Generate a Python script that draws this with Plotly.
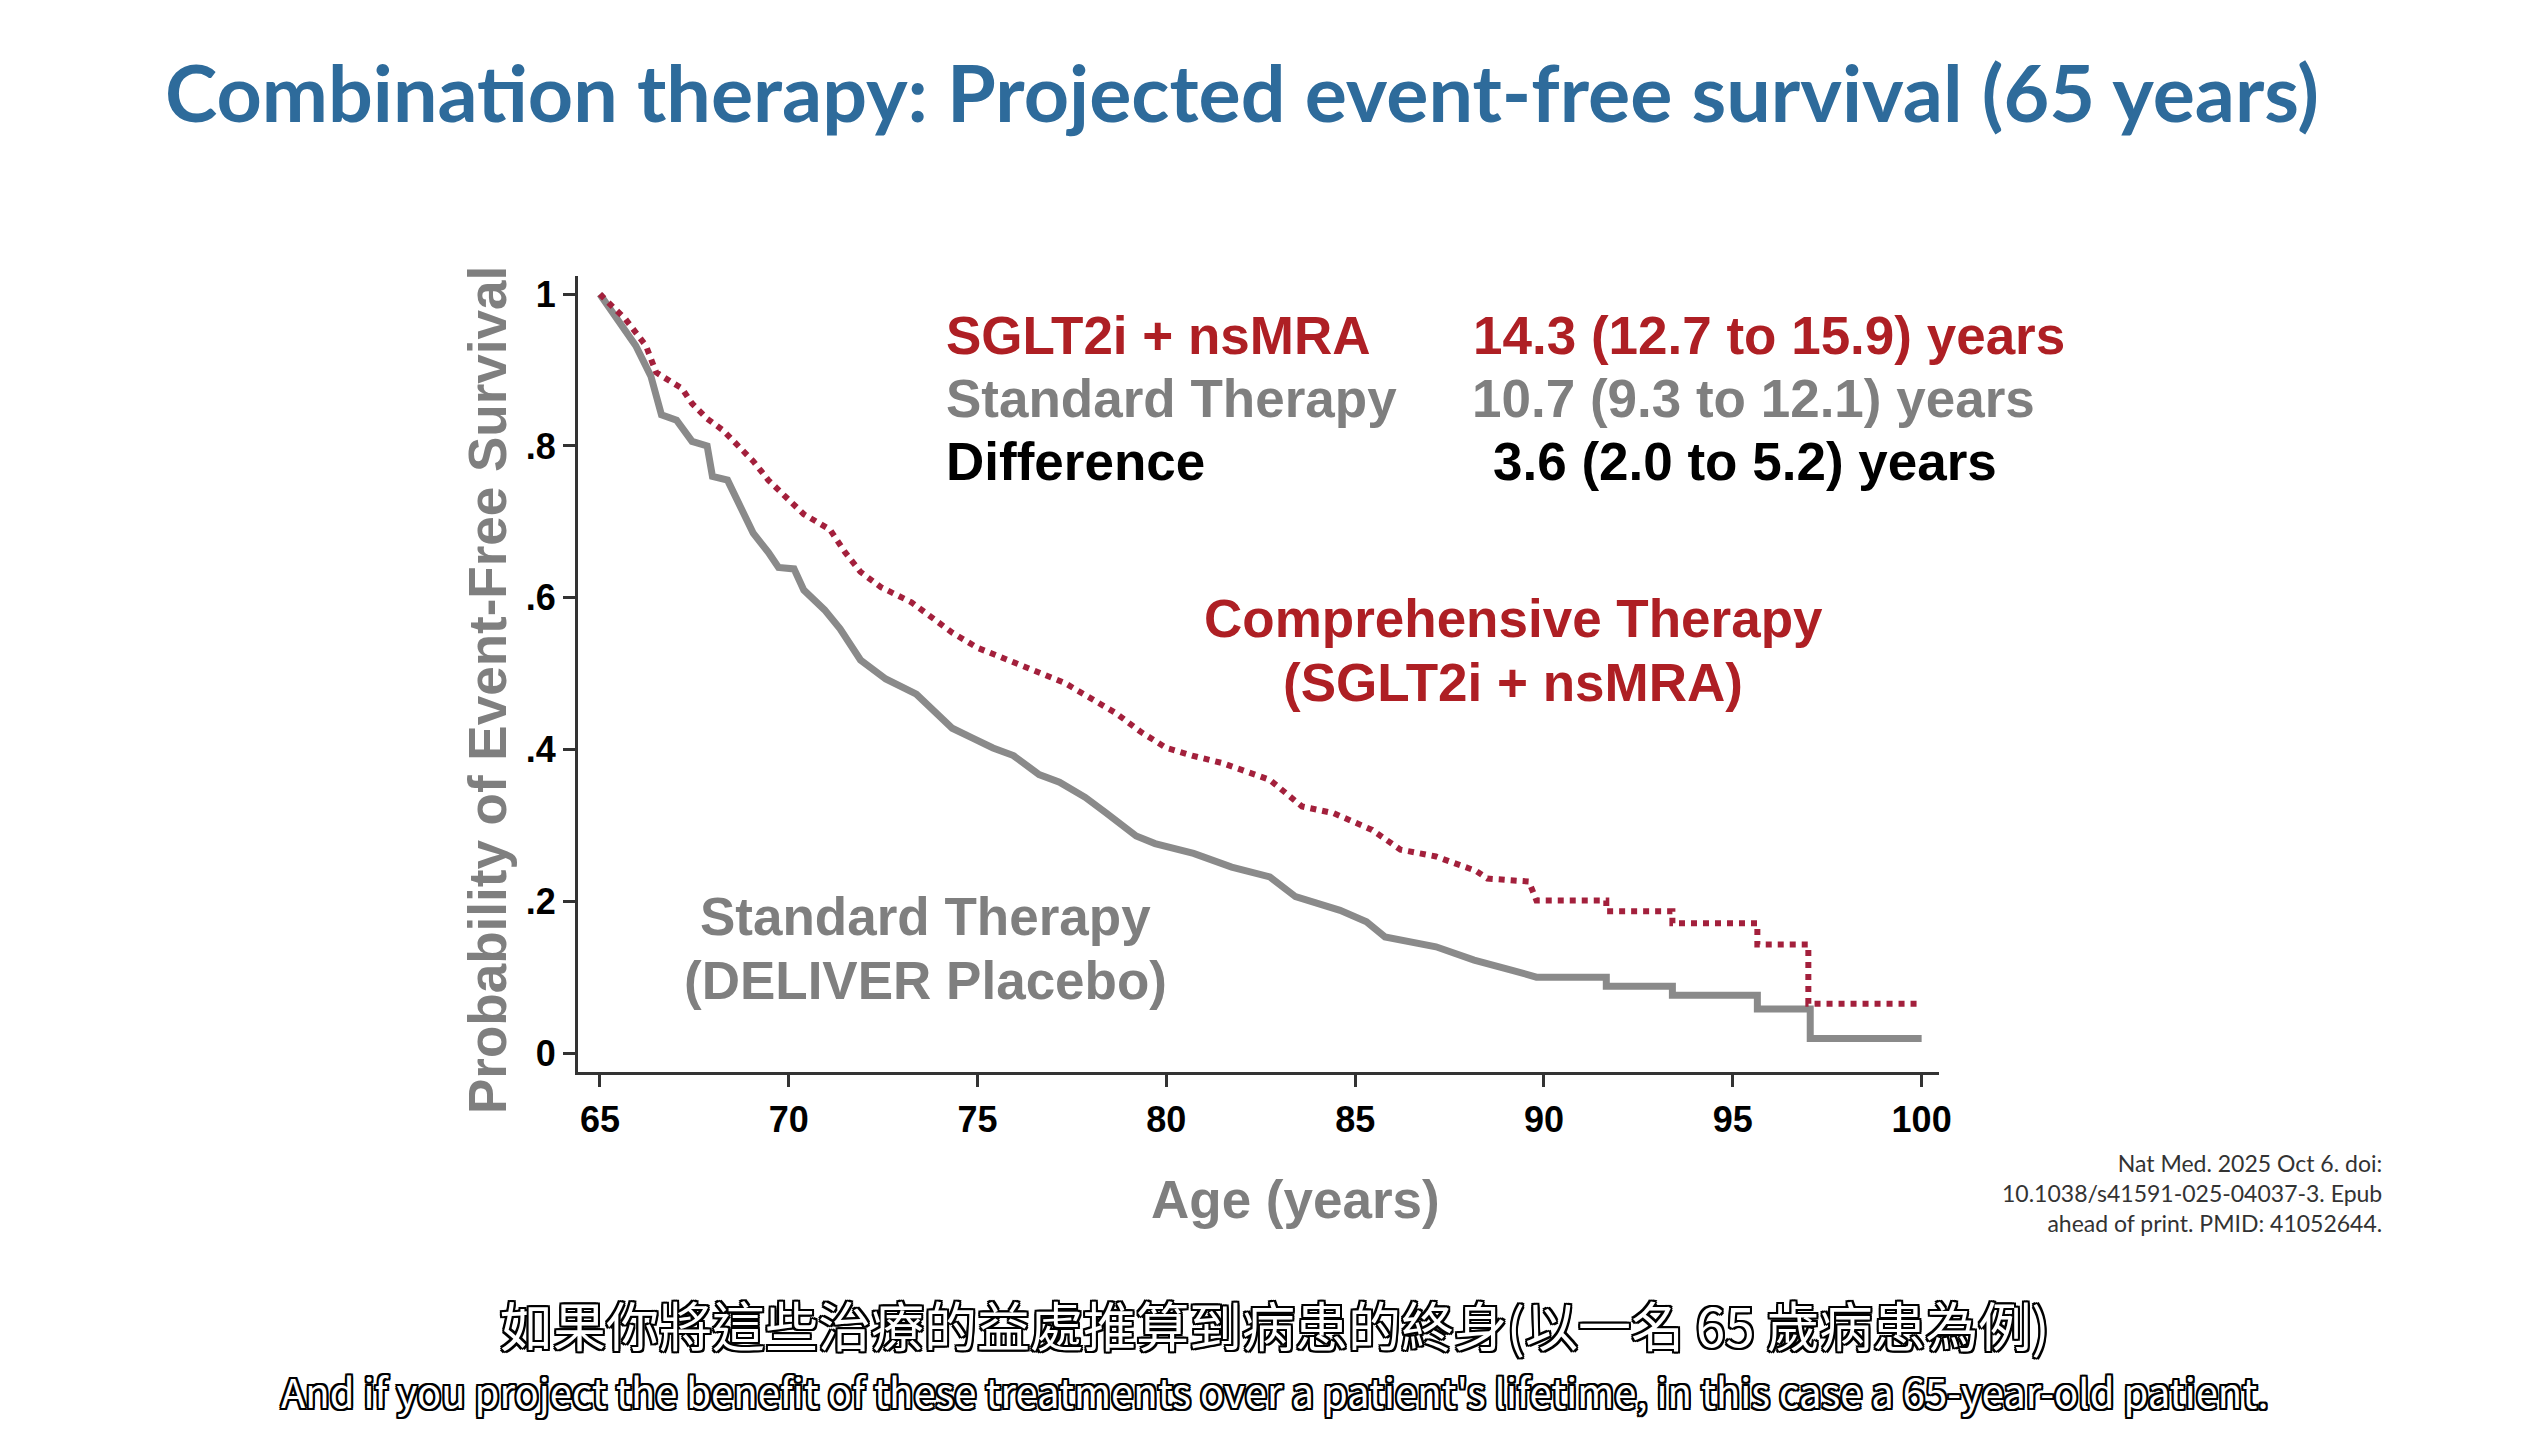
import plotly.graph_objects as go

# ---------------- data ----------------
std_age = [65.0, 65.4, 65.95, 66.35, 66.63, 67.03, 67.44, 67.84, 67.98, 68.38, 68.65,
           69.06, 69.46, 69.73, 70.14, 70.4, 70.95, 71.36, 71.9, 72.57, 73.38, 73.79,
           74.33, 74.87, 75.41, 75.95, 76.63, 77.17, 77.85, 78.39, 79.2, 79.7, 80.72,
           81.73, 82.74, 83.42, 84.6, 85.3, 85.79, 87.14, 88.15, 89.16, 89.8,
           91.65, 91.65, 93.4, 93.4, 95.65, 95.65, 97.05, 97.05, 100.0]
std_surv = [1.0, 0.972, 0.932, 0.892, 0.841, 0.834, 0.806, 0.80, 0.76, 0.755, 0.725,
            0.685, 0.66, 0.64, 0.638, 0.61, 0.584, 0.559, 0.518, 0.493, 0.473, 0.453,
            0.428, 0.415, 0.402, 0.392, 0.367, 0.357, 0.337, 0.317, 0.286, 0.276, 0.263,
            0.245, 0.232, 0.206, 0.188, 0.173, 0.153, 0.14, 0.1225, 0.109, 0.100,
            0.100, 0.088, 0.088, 0.076, 0.076, 0.058, 0.058, 0.019, 0.019]

combo_age = [65.0, 65.28, 65.68, 66.22, 66.49, 66.9, 67.17, 67.44, 67.84, 68.25, 68.65,
             69.06, 69.46, 69.87, 70.4, 71.09, 71.49, 71.9, 72.44, 73.25, 73.79, 74.33,
             75.0, 75.8, 76.63, 77.3, 77.98, 78.66, 79.33, 80.0, 80.68, 81.49, 82.74,
             83.59, 84.43, 85.45, 86.2, 87.14, 88.2, 88.5, 89.6, 89.8,
             91.65, 91.65, 93.4, 93.4, 95.65, 95.65, 97.0, 97.0, 100.0]
combo_surv = [1.0, 0.987, 0.967, 0.932, 0.897, 0.884, 0.876, 0.856, 0.836, 0.821, 0.80,
              0.78, 0.755, 0.735, 0.71, 0.69, 0.66, 0.634, 0.614, 0.594, 0.574, 0.554,
              0.534, 0.518, 0.503, 0.488, 0.468, 0.448, 0.423, 0.402, 0.392, 0.382, 0.36,
              0.325, 0.316, 0.294, 0.268, 0.259, 0.24, 0.23, 0.226, 0.201,
              0.201, 0.187, 0.187, 0.171, 0.171, 0.143, 0.143, 0.065, 0.065]

x_ticks = [65, 70, 75, 80, 85, 90, 95, 100]
y_ticks = [0, 0.2, 0.4, 0.6, 0.8, 1.0]
y_tick_labels = ["0", ".2", ".4", ".6", ".8", "1"]

RED_TXT = "#ae1f24"
RED_LINE = "#a3203c"
GRAY_TXT = "#7f7f7f"
GRAY_LINE = "#8a8a8a"
AXIS = "#333333"
FONT = "Liberation Sans, Arial, sans-serif"

fig = go.Figure()
fig.add_trace(go.Scatter(x=std_age, y=std_surv, mode="lines",
                         line=dict(color=GRAY_LINE, width=7), showlegend=False))
fig.add_trace(go.Scatter(x=combo_age, y=combo_surv, mode="lines",
                         line=dict(color=RED_LINE, width=6, dash="dot"), showlegend=False))

OFF = 8  # page body margin
W, H = 2548 - OFF, 1432 - OFF
L, R, T, B = 578 - OFF, 1939 - OFF, 276 - OFF, 1072 - OFF

fig.update_layout(
    width=W, height=H,
    paper_bgcolor="white", plot_bgcolor="white",
    margin=dict(l=L, r=W - R, t=T, b=H - B, pad=0),
    title=dict(text="<b>Combination therapy: Projected event-free survival (65 years)</b>",
               x=(1242 - OFF) / W, xanchor="center", y=1 - (94 - OFF) / H, yanchor="middle",
               yref="container", xref="container",
               font=dict(family="Lato, sans-serif", size=79, color="#2e6b9b")),
    xaxis=dict(range=[64.42, 100.46], tickvals=x_ticks, showgrid=False, zeroline=False,
               showline=True, linecolor=AXIS, linewidth=3, ticks="outside", ticklen=12,
               tickwidth=3, tickcolor=AXIS, ticklabelstandoff=2,
               tickfont=dict(family=FONT, size=36, color="black", weight="bold")),
    yaxis=dict(range=[-0.025, 1.024], tickvals=y_ticks, ticktext=y_tick_labels,
               showgrid=False, zeroline=False, showline=True, linecolor=AXIS,
               linewidth=3, ticks="outside", ticklen=12, tickwidth=3, tickcolor=AXIS,
               tickfont=dict(family=FONT, size=36, color="black", weight="bold")),
)

def ann(text, x, y, color, size=53, xanchor="left", xref="x", yref="y", **kw):
    fig.add_annotation(text=text, x=x, y=y, xref=xref, yref=yref, showarrow=False,
                       xanchor=xanchor, yanchor="middle",
                       font=dict(family=FONT, size=size, color=color, weight="bold"), **kw)

# summary block
ann("SGLT2i + nsMRA", 74.1, 0.946, RED_TXT)
ann("14.3 (12.7 to 15.9) years", 88.07, 0.946, RED_TXT)
ann("Standard Therapy", 74.1, 0.863, GRAY_TXT)
ann("10.7 (9.3 to 12.1) years", 88.04, 0.863, GRAY_TXT)
ann("Difference", 74.1, 0.779, "black")
ann("3.6 (2.0 to 5.2) years", 88.6, 0.779, "black")

# curve labels
ann("Comprehensive Therapy", 89.19, 0.572, RED_TXT, xanchor="center")
ann("(SGLT2i + nsMRA)", 89.19, 0.488, RED_TXT, xanchor="center")
ann("Standard Therapy", 73.61, 0.180, GRAY_TXT, xanchor="center")
ann("(DELIVER Placebo)", 73.61, 0.096, GRAY_TXT, xanchor="center")

PW, PH = R - L, B - T
def px(x): return (x - OFF - L) / PW
def py(y): return (B - (y - OFF)) / PH

# axis titles
ann("Age (years)", px(1295), py(1199), GRAY_TXT, xanchor="center", xref="paper", yref="paper")
ann("Probability of Event-Free Survival", px(487), py(690), GRAY_TXT, xanchor="center",
    xref="paper", yref="paper", textangle=-90)

# citation
fig.add_annotation(text="Nat Med. 2025 Oct 6. doi:<br>10.1038/s41591-025-04037-3. Epub<br>ahead of print. PMID: 41052644.",
                   x=px(2384), y=py(1193), xref="paper", yref="paper", showarrow=False,
                   xanchor="right", yanchor="middle", align="right",
                   font=dict(family="Lato, sans-serif", size=23, color="#333333"))

# subtitles (white text with black outline)
outline = ", ".join(f"{dx}px {dy}px 0 #000" for dx, dy in
                    [(2, 2), (-2, -2), (2, -2), (-2, 2), (0, 2), (0, -2), (2, 0), (-2, 0)])
fig.add_annotation(text="如果你將這些治療的益處推算到病患的終身(以一名 65 歲病患為例)",
                   x=px(1274), y=py(1324), xref="paper", yref="paper", showarrow=False,
                   xanchor="center", yanchor="middle",
                   font=dict(family="Noto Sans CJK TC", size=53, color="white", shadow=outline))
fig.add_annotation(text="And if you project the benefit of these treatments over a patient's lifetime, in this case a 65-year-old patient.",
                   x=px(1275), y=py(1391), xref="paper", yref="paper", showarrow=False,
                   xanchor="center", yanchor="middle",
                   font=dict(family="Noto Sans CJK TC", size=40, color="white", shadow=outline))

fig.write_html("out.html")
